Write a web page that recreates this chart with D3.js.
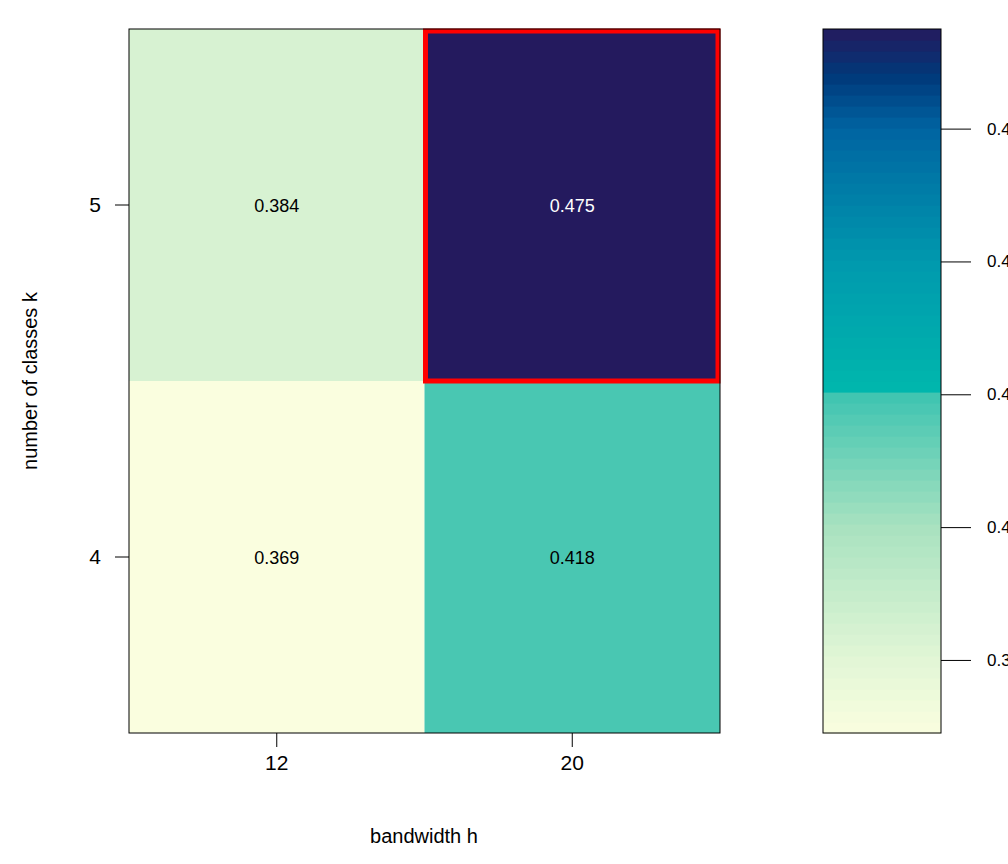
<!DOCTYPE html>
<html><head><meta charset="utf-8">
<script src="https://cdn.jsdelivr.net/npm/d3@7"></script>
<style>body{margin:0;background:#fff;overflow:hidden}text{font-family:Arial,"Liberation Sans",sans-serif}</style>
</head><body>
<script>
const bandwidths = ["12", "20"];
const classes = ["4", "5"];
// values[row k][col h]
const values = [[0.369, 0.418], [0.384, 0.475]];
const best = {h: "20", k: "5"};
const legendTicks = [0.38, 0.40, 0.42, 0.44, 0.46];
const colorStops = [0.369, 0.38, 0.40, 0.4199, 0.42, 0.44, 0.46, 0.468, 0.475];
const colorRange = ["#fafedf", "#e2f6d6", "#a9e2c0", "#3fc4b1", "#00b8ad", "#0099ae", "#0064a2", "#00397a", "#241a5e"];

const svg = d3.select("body").append("svg").attr("width", 1008).attr("height", 864);
const x = d3.scaleBand().domain(bandwidths).range([129, 720]);
const y = d3.scaleBand().domain(classes).range([733, 29]);
const color = d3.scaleLinear().domain(colorStops).range(colorRange);

const cells = [];
classes.forEach((k, i) => bandwidths.forEach((h, j) => cells.push({k, h, v: values[i][j]})));

svg.selectAll("rect.cell").data(cells).enter().append("rect")
  .attr("x", d => x(d.h)).attr("y", d => y(d.k))
  .attr("width", x.bandwidth()).attr("height", y.bandwidth())
  .attr("fill", d => color(d.v));

svg.selectAll("text.val").data(cells).enter().append("text")
  .attr("x", d => x(d.h) + x.bandwidth() / 2).attr("y", d => y(d.k) + y.bandwidth() / 2 + 7)
  .attr("text-anchor", "middle").attr("font-size", 18)
  .attr("fill", d => d.v > 0.45 ? "#fff" : "#000")
  .text(d => d.v.toFixed(3));

svg.append("rect").attr("x", x(best.h) + 1).attr("y", y(best.k) + 2)
  .attr("width", x.bandwidth() - 3).attr("height", y.bandwidth() - 2)
  .attr("fill", "none").attr("stroke", "#ff0000").attr("stroke-width", 5);

svg.append("rect").attr("x", 129).attr("y", 29).attr("width", 591).attr("height", 704)
  .attr("fill", "none").attr("stroke", "#000");

const xAxis = svg.append("g").attr("transform", "translate(0,733)")
  .call(d3.axisBottom(x).tickSize(14).tickPadding(8));
const yAxis = svg.append("g").attr("transform", "translate(129,0)")
  .call(d3.axisLeft(y).tickSize(14).tickPadding(14));
[xAxis, yAxis].forEach(a => {
  a.select(".domain").remove();
  a.selectAll("text").attr("font-size", 21).attr("font-family", "Arial, Liberation Sans, sans-serif");
});

svg.append("text").attr("x", 424).attr("y", 843).attr("text-anchor", "middle")
  .attr("font-size", 20).text("bandwidth h");
svg.append("text").attr("transform", "translate(37,381) rotate(-90)").attr("text-anchor", "middle")
  .attr("font-size", 20).text("number of classes k");

// colour bar
const ly = d3.scaleLinear().domain([0.369, 0.475]).range([733, 29]);
const nBands = 64;
const bands = d3.range(nBands).map(i => 0.369 + (0.475 - 0.369) * i / nBands);
const bh = (733 - 29) / nBands;
svg.selectAll("rect.band").data(bands).enter().append("rect")
  .attr("x", 823).attr("width", 118)
  .attr("y", d => ly(d) - bh).attr("height", bh + 0.6)
  .attr("fill", d => color(d + (0.475 - 0.369) / nBands / 2));
svg.append("rect").attr("x", 823).attr("y", 29).attr("width", 118).attr("height", 704)
  .attr("fill", "none").attr("stroke", "#000");
const lAxis = svg.append("g").attr("transform", "translate(941,0)")
  .call(d3.axisRight(ly).tickValues(legendTicks).tickFormat(d3.format(".2f")).tickSize(30).tickPadding(16));
lAxis.select(".domain").remove();
lAxis.selectAll("text").attr("font-size", 17).attr("font-family", "Arial, Liberation Sans, sans-serif");
</script>
</body></html>
